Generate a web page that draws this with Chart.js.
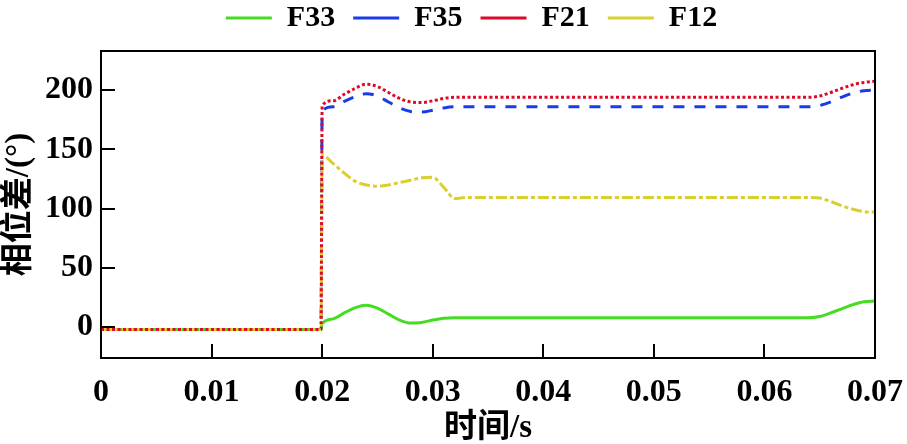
<!DOCTYPE html>
<html>
<head>
<meta charset="utf-8">
<script src="https://cdn.jsdelivr.net/npm/chart.js@4.4.1/dist/chart.umd.min.js"></script>
<style>
  html, body { margin: 0; padding: 0; background: #fff; }
  #wrap { width: 907px; height: 444px; }
</style>
</head>
<body>
<div id="wrap"><canvas id="myChart"></canvas></div>
<script>
// time (s) and phase difference (deg)
const times = [0, 0.0199, 0.02, 0.021, 0.022, 0.023, 0.024, 0.025, 0.026, 0.027, 0.028, 0.029, 0.030, 0.031, 0.032, 0.033, 0.04, 0.05, 0.06, 0.064, 0.065, 0.066, 0.067, 0.068, 0.069, 0.07];
const f33 = [-2, -2, 3, 7, 12, 16.5, 18.5, 16, 11, 6, 3.5, 4, 6, 7.5, 8, 8, 8, 8, 8, 8, 9, 12, 15.5, 19, 21.5, 22];
const f35 = [-2, -2, 182, 186, 190.5, 194.5, 197, 195, 190, 185, 182, 181.5, 183, 185, 186, 186, 186, 186, 186, 186, 187, 190, 194, 197.5, 199.5, 200];
const f21 = [-2, -2, 187, 191, 196.5, 201.5, 205, 203, 198, 193, 190, 189.5, 191, 193, 194, 194, 194, 194, 194, 194, 195, 198, 201.5, 204.5, 206.5, 207.5];
const f12 = [-2, -2, 145, 138, 130, 123, 120, 119, 120, 122, 124, 126, 126.5, 118, 108.5, 109.5, 109.5, 109.5, 109.5, 109.5, 109, 106, 102.5, 99.5, 97.5, 97];
const seriesNames = ['F33', 'F35', 'F21', 'F12'];
const xTicks = [0, 0.01, 0.02, 0.03, 0.04, 0.05, 0.06, 0.07];
const yTicks = [0, 50, 100, 150, 200];

const serif = "'Liberation Serif', 'Times New Roman', serif";
const cjk = "'Liberation Serif', 'Noto Sans CJK SC', serif";

const pts = arr => arr.map((v, i) => ({ x: times[i], y: v }));

// box around the plot + inward ticks
const frame = {
  id: 'frame',
  afterLayout(chart) {
    // nudge the legend to sit where the original one is
    const lg = chart.legend;
    lg.left += 34; lg.right += 34;
    lg.top -= 8; lg.bottom -= 8;
  },
  afterDraw(chart) {
    const { ctx, chartArea: a, scales } = chart;
    ctx.save();
    ctx.strokeStyle = '#000';
    ctx.lineWidth = 2;
    ctx.strokeRect(a.left, a.top, a.right - a.left, a.bottom - a.top);
    ctx.beginPath();
    xTicks.forEach(v => {
      const px = Math.round(scales.x.getPixelForValue(v));
      ctx.moveTo(px, a.bottom);
      ctx.lineTo(px, a.bottom - 14);
    });
    yTicks.forEach(v => {
      const py = Math.round(scales.y.getPixelForValue(v));
      ctx.moveTo(a.left, py);
      ctx.lineTo(a.left + 14, py);
    });
    ctx.stroke();
    ctx.restore();
  }
};

var ctx = document.getElementById('myChart');

var myChart = new Chart(ctx, {
  type: 'line',
  data: {
    datasets: [
      { label: seriesNames[0], data: pts(f33), borderColor: '#44dd22', borderWidth: 3, order: 4 },
      { label: seriesNames[1], data: pts(f35), borderColor: '#1a3ce8', borderWidth: 3, borderDash: [11, 10], order: 3 },
      { label: seriesNames[2], data: pts(f21), borderColor: '#dd0a2a', borderWidth: 3, borderDash: [3, 2.5], order: 1 },
      { label: seriesNames[3], data: pts(f12), borderColor: '#d9d030', borderWidth: 3, borderDash: [11, 3, 4, 3], order: 2 }
    ]
  },
  options: {
    responsive: true,
    maintainAspectRatio: false,
    animation: false,
    layout: { padding: { left: 0, right: 32, top: -7, bottom: 0 } },
    elements: {
      point: { radius: 0 },
      line: { tension: 0.4, cubicInterpolationMode: 'monotone', fill: false }
    },
    plugins: {
      tooltip: { enabled: false },
      legend: {
        position: 'top',
        labels: {
          usePointStyle: true,
          pointStyle: 'line',
          pointStyleWidth: 46,
          boxHeight: 20,
          padding: 18,
          color: '#000',
          sort: (a, b) => a.datasetIndex - b.datasetIndex,
          font: { family: serif, size: 30, weight: 'bold' }
        }
      }
    },
    scales: {
      x: {
        type: 'linear',
        min: 0,
        max: 0.07,
        grid: { display: false, drawTicks: false },
        border: { display: false },
        ticks: {
          stepSize: 0.01,
          includeBounds: false,
          padding: 16,
          maxRotation: 0,
          color: '#000',
          font: { family: serif, size: 32, weight: 'bold' },
          callback: v => (Math.abs(v) < 1e-9 ? '0' : v.toFixed(2))
        },
        title: {
          display: true,
          text: '时间/s',
          color: '#000',
          padding: { top: -4, bottom: -4 },
          font: { family: cjk, size: 33, weight: 'bold' }
        },
        afterFit: s => { s.height = 86; s.paddingLeft = 0; s.paddingRight = 0; }
      },
      y: {
        min: -26,
        max: 233,
        grid: { display: false, drawTicks: false },
        border: { display: false },
        ticks: {
          stepSize: 50,
          includeBounds: false,
          padding: 8,
          color: '#000',
          font: { family: serif, size: 32, weight: 'bold' }
        },
        title: {
          display: true,
          text: '相位差/(°)',
          color: '#000',
          padding: { top: 0, bottom: 0 },
          font: { family: cjk, size: 33, weight: 'bold' }
        },
        afterFit: s => { s.width = 101; }
      }
    }
  },
  plugins: [frame]
});
</script>
</body>
</html>
